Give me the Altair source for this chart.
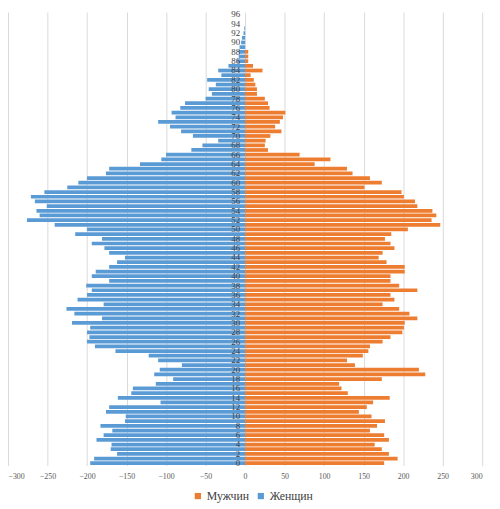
import altair as alt
import pandas as pd

ages = list(range(97))
men = [176, 193, 182, 173, 164, 182, 176, 158, 167, 177,
       160, 144, 154, 162, 183, 130, 122, 119, 173, 228,
       220, 139, 129, 149, 156, 158, 174, 184, 199, 201,
       202, 218, 208, 195, 174, 189, 184, 218, 195, 184,
       184, 202, 202, 179, 169, 174, 189, 184, 177, 185,
       206, 247, 236, 242, 237, 218, 215, 201, 198, 151,
       173, 158, 136, 129, 88, 108, 69, 29, 25, 26,
       32, 46, 38, 44, 48, 51, 31, 29, 25, 15,
       15, 13, 11, 7, 22, 10, 4, 4, 4, 0,
       0, 0, 0, 0, 0, 0, 0]
women = [196, 191, 162, 170, 169, 188, 179, 168, 183, 152,
         151, 176, 172, 107, 161, 144, 142, 113, 91, 115,
         108, 80, 110, 122, 164, 190, 200, 197, 200, 196,
         219, 181, 216, 226, 179, 212, 200, 194, 201, 172,
         194, 189, 172, 162, 152, 172, 178, 194, 181, 215,
         200, 241, 276, 260, 264, 251, 266, 271, 254, 225,
         211, 200, 176, 172, 133, 106, 100, 68, 54, 34,
         66, 81, 95, 110, 88, 93, 82, 76, 50, 42,
         46, 37, 48, 30, 34, 21, 10, 8, 8, 7,
         5, 4, 2, 1, 0, 0, 0]
label_ages = [a for a in ages if a % 2 == 0]
series = ["Мужчин", "Женщин"]
colors = ["#ED7D31", "#5B9BD5"]
x_ticks = list(range(-300, 301, 50))

rows = []
for a, m, w in zip(ages, men, women):
    rows.append({"age": a, "sex": series[0], "value": m})
    rows.append({"age": a, "sex": series[1], "value": -w})
df = pd.DataFrame(rows)
lab = pd.DataFrame({"age": label_ages, "zero": [0] * len(label_ages)})

yenc = alt.Y("age:O",
             scale=alt.Scale(domain=list(reversed(ages)), paddingInner=0.2, paddingOuter=0.1),
             axis=None)

bars = alt.Chart(df).mark_bar().encode(
    x=alt.X("value:Q", stack=None,
            scale=alt.Scale(domain=[-300, 300], nice=False),
            axis=alt.Axis(values=x_ticks, title=None, domain=False, ticks=False,
                          grid=True, gridColor="#d9d9d9", gridWidth=1,
                          labelFont="Liberation Serif", labelFontSize=8,
                          labelColor="#595959", labelPadding=7)),
    y=yenc,
    color=alt.Color("sex:N", scale=alt.Scale(domain=series, range=colors),
                    legend=alt.Legend(title=None, orient="none", legendX=187, legendY=486,
                                      direction="horizontal", symbolType="square",
                                      symbolSize=40, symbolStrokeWidth=0, padding=0,
                                      labelFont="Liberation Serif", labelFontSize=12,
                                      labelColor="#404040", labelOffset=3,
                                      columnPadding=5)),
)

labels = alt.Chart(lab).mark_text(align="right", baseline="middle", dx=-5,
                                  font="Liberation Serif", fontSize=9,
                                  color="#404040").encode(
    x=alt.X("zero:Q"),
    y=yenc,
    text=alt.Text("age:Q"),
)

chart = alt.layer(bars, labels).properties(
    width=482, height=461,
    autosize=alt.AutoSizeParams(type="none"),
    padding={"left": 0, "top": 0, "right": 10, "bottom": 40},
).configure_view(stroke=None)

chart.save("out.html", embed_options={"renderer": "svg", "actions": False})
